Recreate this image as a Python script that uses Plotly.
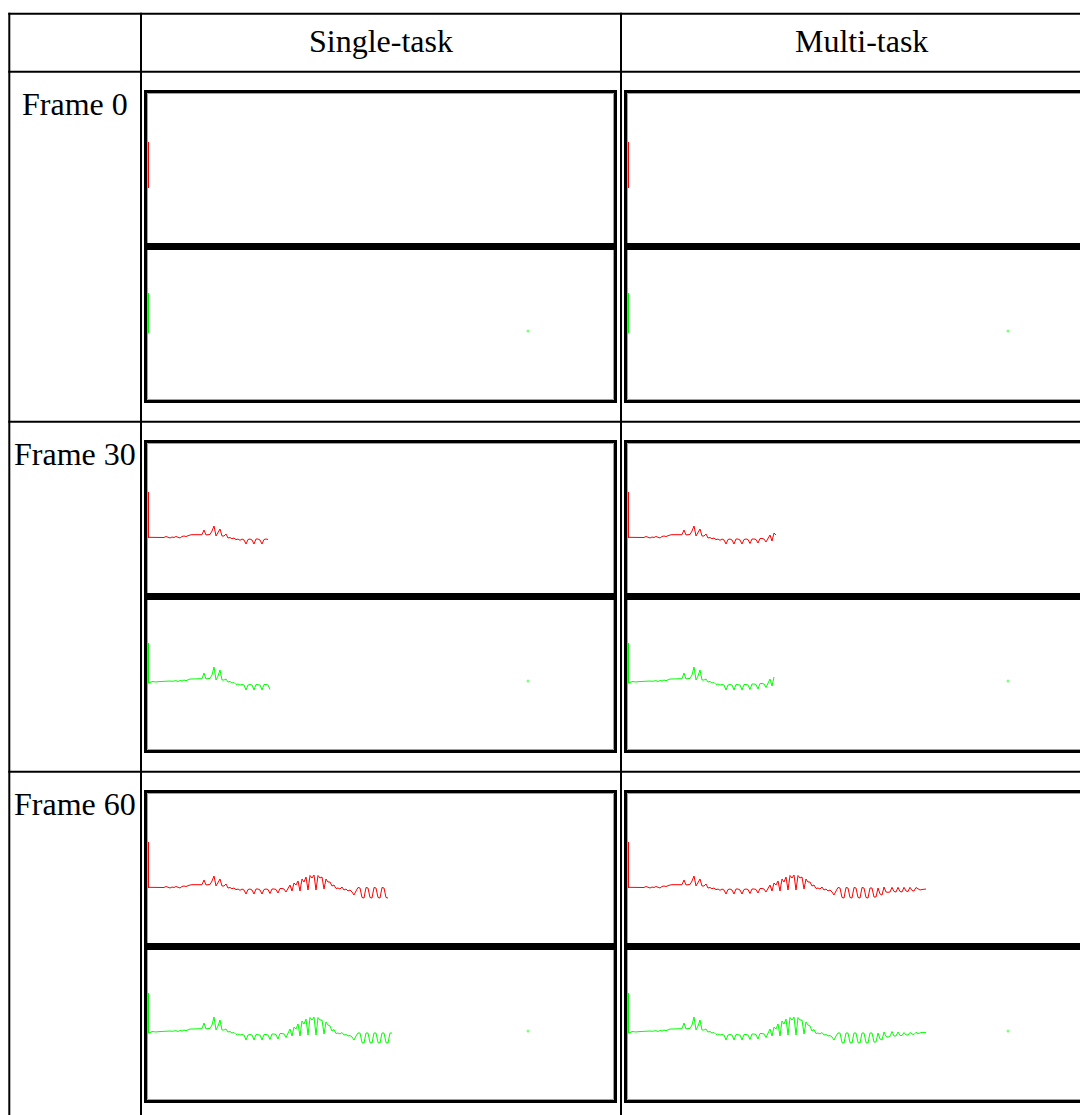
import plotly.graph_objects as go

# ---------------- data ----------------
frames = ["Frame 0", "Frame 30", "Frame 60"]
methods = ["Single-task", "Multi-task"]

# contour value (height above baseline) per sample, upper (red) channel
red_base = [
    0.7, 0.7, 0.7, 0.7, 0.7, 0.7, 0.7, 0.7, 0.5, 1.5,
    0.5, 0, 1, 0.5, 1.5, 0.5, 0, 1.5, 2, 1.5,
    2.5, 3, 3.3, 3.3, 3, 3.3, 3.3, 3.3, 8, 3,
    3.3, 3.5, 7, 12, 2, 5, 9, 2, 2, 4,
    0, 0.5, -0.7, 0, -1.7, -1, -2.3, -1, -2, -6,
    -1.5, -1, -2, -6, -1, -1, -2, -6, -1.5, -1,
    -1.5, -5.5, -1, -1, -1.5, -5, -0.5, -0.5, -1, -4,
    0, 3, -3, 5, 3, 7, -3, 9, 6, 11,
    -2, 12.5, 10, 13, -2, 12.5, 10, 11, -1, 9,
    6, 6, 2, 3, -0.5, 0, -1, 1, -2, -1,
    -3, -2, -4, -7, -3, 0.5, 0, -9.5, -10, 0.5,
    0, -9.5, -10, 0.5, 0, -9.5, -10, 0.5, 0, -9.5,
    -10, 0, 0, -9, -9, 0, -6, -7, 1, -4,
    -4.3, -4, 0.7, -3.5, -4, 0.7, -3.5, -4, 0.7, -3,
    -3.5, 0.7, -2.5, -3, 0.5, -1, -2, -1.5, -1, -1,
]

# lower (green) channel
green_base = [
    0, 0.3, 1.5, 1, 1, 1.3, 1.5, 1.5, 1.7, 1.7,
    1.7, 2, 1.7, 2, 2.3, 1.5, 2.5, 2, 3, 2.3,
    3.5, 4, 4, 4, 4, 4, 4, 4.3, 10, 4,
    4.5, 4.5, 8, 16, 3, 7, 13, 3, 3, 4,
    1, 1.5, 0, 0.5, -1.5, -1, -2, -1.5, -2, -7,
    -2, -1.5, -2, -7, -1.5, -1.5, -2, -7, -1.5, -1.5,
    -2, -6.5, -1, -1, -1.5, -6, -0.5, -0.5, -1, -4.5,
    0.5, 4, -3, 6, 4, 9, -3, 12, 9, 14,
    -2, 15.5, 13, 16, -2, 15.5, 13, 13, -1, 11,
    8, 7, 2, 3.5, -0.5, 0, -1, 0.5, -2, -1.5,
    -3, -2.5, -4, -7, -3, 0, 0, -9.5, -10, 0,
    0, -9.5, -10, 0, 0, -9.5, -10, 0, 0, -9.5,
    -10, 0, 0, -9, -9, 0, -6, -7, 1, -3.5,
    -4, -3.5, 1.5, -3, -3, 1, -2.5, -2.5, 0.5, -2,
    -2, 0.5, -1, -1.5, 0.7, -0.5, 0, 0.7, 0.3, 0.7,
]

# number of samples shown in each panel: [frame0, frame30, frame60]
red_len = {"Single-task": [0, 61, 121], "Multi-task": [0, 75, 150]}
green_len = {"Single-task": [0, 62, 123], "Multi-task": [0, 74, 150]}

onset_red = 46
onset_green = 40
dot_sample = 190
dot_value = 2

# ---------------- layout helpers ----------------
OFF = 8  # page body margin
W, H = 1080, 1107


def px(x):
    return (x - OFF) / W


def py(y):
    return 1 - (y - OFF) / H


ROW_TOP = [71.7, 421.7, 771.7]
PANEL_X = {"Single-task": (147, 614), "Multi-task": (627, 1088)}
PANEL_RIGHT = {"Single-task": 615.5, "Multi-task": 1100}
PANEL_LEFT = {"Single-task": 145.5, "Multi-task": 625.5}

fig = go.Figure()
layout = dict(
    width=W, height=H, margin=dict(l=0, r=0, t=0, b=0),
    paper_bgcolor="white", plot_bgcolor="rgba(0,0,0,0)",
    showlegend=False,
)
shapes = []
annotations = []

ax = 0
for ri, frame in enumerate(frames):
    rt = ROW_TOP[ri]
    for method in methods:
        x0p, x1p = PANEL_X[method]
        xr = [-0.5, (x1p - x0p) / 2 - 0.5]
        for part in ("upper", "lower"):
            ax += 1
            if part == "upper":
                top, bot = rt + 21.3, rt + 171.3
                yr = [-55, 95]
                base, n, col, onset = red_base, red_len[method][ri], "#ff0000", onset_red
            else:
                top, bot = rt + 178.3, rt + 328.3
                yr = [-67, 83]
                base, n, col, onset = green_base, green_len[method][ri], "#00ff00", onset_green
            sfx = "" if ax == 1 else str(ax)
            layout["xaxis" + sfx] = dict(domain=[max(0, px(x0p)), min(1, px(x1p))], range=xr,
                                         visible=False, anchor="y" + sfx, fixedrange=True)
            layout["yaxis" + sfx] = dict(domain=[py(bot), py(top)], range=yr, visible=False,
                                         anchor="x" + sfx, fixedrange=True)
            xa, ya = "x" + sfx, "y" + sfx
            # onset marker (vertical bar at first sample)
            fig.add_trace(go.Scatter(x=[0, 0], y=[0, onset], mode="lines",
                                     line=dict(color=col, width=2), xaxis=xa, yaxis=ya,
                                     hoverinfo="skip"))
            if n > 0:
                vals = base[:n]
                fig.add_trace(go.Scatter(x=list(range(n)), y=vals, mode="lines",
                                         line=dict(color=col, width=1), xaxis=xa, yaxis=ya,
                                         hoverinfo="skip"))
            if part == "lower":
                fig.add_trace(go.Scatter(x=[dot_sample], y=[dot_value], mode="markers",
                                         marker=dict(color="#7dff7d", size=3, line=dict(width=0)),
                                         xaxis=xa, yaxis=ya, hoverinfo="skip"))
        # panel frame
        pt, pb = rt + 19.8, rt + 329.8
        shapes.append(dict(type="rect", xref="paper", yref="paper",
                           x0=px(PANEL_LEFT[method] + 2), x1=px(PANEL_RIGHT[method] - 2),
                           y0=py(pb - 2), y1=py(pt + 2),
                           line=dict(color="#a0a0a0", width=1), layer="above"))
        shapes.append(dict(type="rect", xref="paper", yref="paper",
                           x0=px(PANEL_LEFT[method]), x1=px(PANEL_RIGHT[method]),
                           y0=py(pb), y1=py(pt),
                           line=dict(color="black", width=3), layer="above"))
        # thick separator between the two channels
        shapes.append(dict(type="rect", xref="paper", yref="paper",
                           x0=px(PANEL_LEFT[method]), x1=px(PANEL_RIGHT[method]),
                           y0=py(rt + 178.3), y1=py(rt + 171.3),
                           fillcolor="black", line=dict(width=0), layer="above"))
    annotations.append(dict(text=frame, x=px(75), y=py(rt + 32.5), xref="paper", yref="paper",
                            showarrow=False, xanchor="center", yanchor="middle",
                            font=dict(family="Liberation Serif", size=32, color="black")))

# table grid
for yl in [13.7] + ROW_TOP:
    shapes.append(dict(type="line", xref="paper", yref="paper", x0=px(8.3), x1=px(1110),
                       y0=py(yl), y1=py(yl), line=dict(color="black", width=2), layer="above"))
for xl in [9.3, 141, 621]:
    shapes.append(dict(type="line", xref="paper", yref="paper", x0=px(xl), x1=px(xl),
                       y0=py(12.7), y1=py(1130), line=dict(color="black", width=2), layer="above"))

for method, cx in zip(methods, [381, 861]):
    annotations.append(dict(text=method, x=px(cx), y=py(41.5), xref="paper", yref="paper",
                            showarrow=False, xanchor="center", yanchor="middle",
                            font=dict(family="Liberation Serif", size=32, color="black")))

layout["shapes"] = shapes
layout["annotations"] = annotations
fig.update_layout(**layout)
fig.write_html("out.html")
